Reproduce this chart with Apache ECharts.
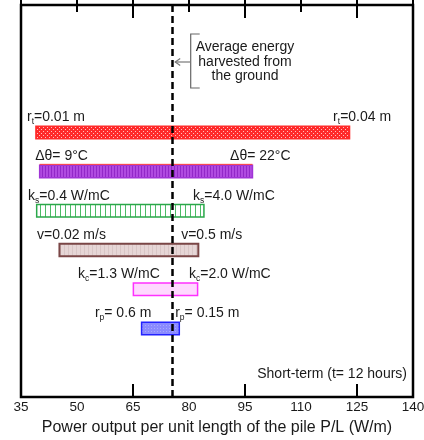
<!DOCTYPE html>
<html>
<head>
<meta charset="utf-8">
<script src="https://cdn.jsdelivr.net/npm/echarts@6/dist/echarts.min.js"></script>
<style>
  html, body { margin: 0; padding: 0; background: #fff; }
  #main { width: 424px; height: 440px; }
</style>
</head>
<body>
<div id="main"></div>
<script>
// parameter ranges (W/m)
var lowValues  = [39.0, 40.0, 39.2, 45.3, 65.1, 67.3];
var highValues = [123.0, 97.0, 84.0, 82.5, 82.3, 77.4];
var lowLabels  = ['r_t=0.01 m', '\u0394\u03b8= 9\u00b0C', 'k_s=0.4 W/mC', 'v=0.02 m/s', 'k_c=1.3 W/mC', 'r_p= 0.6 m'];
var highLabels = ['r_t=0.04 m', '\u0394\u03b8= 22\u00b0C', 'k_s=4.0 W/mC', 'v=0.5 m/s', 'k_c=2.0 W/mC', 'r_p= 0.15 m'];
var averageValue = 75.5;
var xMin = 35, xMax = 140, xStep = 15;
var xTitle = 'Power output per unit length of the pile P/L (W/m)';

// where each label starts (x in W/m)
var lowLabelAt  = [36.6, 38.8, 36.9, 39.3, 50.3, 54.8];
var highLabelAt = [118.6, 91.0, 81.1, 77.9, 80.0, 76.3];

var FONT = '"Liberation Sans", Arial, sans-serif';
var INK = '#1a1a1a';

function makePattern(w, h, draw) {
  var c = document.createElement('canvas');
  c.width = w; c.height = h;
  var ctx = c.getContext('2d');
  draw(ctx);
  return { image: c, repeat: 'repeat' };
}

var barStyles = [
  { stroke: '#ff2a2a', lw: 1.5, fill: makePattern(4, 4, function (g) {
      g.fillStyle = '#ff2a2a'; g.fillRect(0, 0, 4, 4);
      g.fillStyle = '#ffc0c0'; g.fillRect(1, 1, 1, 1); g.fillRect(3, 3, 1, 1);
    }) },
  { stroke: '#a034d6', lw: 1.5, top: '#ff3b3b', fill: makePattern(3, 1, function (g) {
      g.fillStyle = '#b04ae0'; g.fillRect(0, 0, 3, 1);
      g.fillStyle = '#9228c8'; g.fillRect(0, 0, 1, 1);
    }) },
  { stroke: '#2aa84a', lw: 1.5, fill: makePattern(5, 1, function (g) {
      g.fillStyle = '#ffffff'; g.fillRect(0, 0, 5, 1);
      g.fillStyle = '#4cbc66'; g.fillRect(0, 0, 1, 1);
    }) },
  { stroke: '#7a4646', lw: 2, fill: makePattern(4, 1, function (g) {
      g.fillStyle = '#e6d6d6'; g.fillRect(0, 0, 4, 1);
      g.fillStyle = '#d8c6c6'; g.fillRect(0, 0, 1, 1);
    }) },
  { stroke: '#ff30ff', lw: 1.5, fill: '#ffd8ff' },
  { stroke: '#2222ff', lw: 1.5, fill: makePattern(3, 3, function (g) {
      g.fillStyle = '#8a8aff'; g.fillRect(0, 0, 3, 3);
      g.fillStyle = '#a8a8ff'; g.fillRect(1, 1, 1, 1);
    }) }
];

// rows on a hidden 0..20 y scale, bars sit on every second slot
var barData = [];
for (var i = 0; i < lowValues.length; i++) {
  barData.push([lowValues[i], highValues[i], 6.5 + 2 * i]);
}

function richText(s) {
  return s.replace(/_(\w)/g, '{s|$1}');
}

var richStyles = {
  s: { fontSize: 8.5, fontFamily: FONT, color: INK, padding: [9, 0, 0, 0] }
};

var myChart = echarts.init(document.getElementById('main'));

function tickAxis(pos, len, step) {
  return {
    type: 'value', position: pos, min: xMin, max: xMax, interval: step,
    axisLine: { show: false }, splitLine: { show: false },
    axisTick: { show: true, inside: true, length: len, lineStyle: { color: '#000', width: 2 } },
    axisLabel: { show: false }
  };
}

var bottomAxis = tickAxis('bottom', 7, xStep);
bottomAxis.axisLabel = { show: true, color: INK, fontSize: 13.5, fontFamily: FONT, margin: 3 };

var option = {
  animation: false,
  grid: {
    left: 21, right: 11, top: 5, bottom: 43, outerBoundsMode: 'none',
    show: true, borderColor: '#000', borderWidth: 2.5
  },
  xAxis: [
    bottomAxis,
    tickAxis('bottom', 13, 30),
    tickAxis('top', 7, xStep),
    tickAxis('top', 13, 30)
  ],
  yAxis: {
    type: 'value', min: 0, max: 20, inverse: true, show: false
  },
  series: [
    {
      type: 'custom',
      xAxisIndex: 0,
      data: barData,
      encode: { x: [0, 1], y: 2 },
      renderItem: function (params, api) {
        var i = params.dataIndex;
        var row = api.value(2);
        var p0 = api.coord([api.value(0), row]);
        var p1 = api.coord([api.value(1), row]);
        var h = 12.5;
        var st = barStyles[i];
        var children = [
          {
            type: 'rect',
            shape: { x: p0[0], y: p0[1] - h / 2, width: p1[0] - p0[0], height: h },
            style: { fill: st.fill, stroke: st.stroke, lineWidth: st.lw }
          },
          {
            type: 'text',
            x: api.coord([lowLabelAt[i], row])[0], y: p0[1] - 15,
            style: { text: richText(lowLabels[i]), rich: richStyles, fill: INK,
                     font: '14px ' + FONT, align: 'left', verticalAlign: 'middle' }
          },
          {
            type: 'text',
            x: api.coord([highLabelAt[i], row])[0], y: p0[1] - 15,
            style: { text: richText(highLabels[i]), rich: richStyles, fill: INK,
                     font: '14px ' + FONT, align: 'left', verticalAlign: 'middle' }
          }
        ];
        if (st.top) {
          children.push({
            type: 'line',
            shape: { x1: p0[0], y1: p0[1] - h / 2 - 1, x2: p1[0], y2: p0[1] - h / 2 - 1 },
            style: { stroke: st.top, lineWidth: 1 }
          });
        }
        return { type: 'group', children: children };
      },
      markLine: {
        silent: true,
        symbol: 'none',
        label: { show: false },
        lineStyle: { color: '#000', width: 2.5, type: [7, 4] },
        data: [{ xAxis: averageValue }]
      },
      z: 3
    }
  ]
};

myChart.setOption(option);

// annotation for the average line + axis title
var ax = myChart.convertToPixel({ xAxisIndex: 0 }, averageValue);
var bx = ax + 18.5;
var midX = (myChart.convertToPixel({ xAxisIndex: 0 }, xMin) + myChart.convertToPixel({ xAxisIndex: 0 }, xMax)) / 2;
myChart.setOption({
  graphic: [
    {
      type: 'polyline',
      shape: { points: [[bx + 9, 34], [bx, 34], [bx, 88], [bx + 9, 88]] },
      style: { stroke: '#666', lineWidth: 1.2, fill: null }
    },
    {
      type: 'line',
      shape: { x1: bx, y1: 62, x2: ax + 3, y2: 62 },
      style: { stroke: '#777', lineWidth: 1.2 }
    },
    {
      type: 'polyline',
      shape: { points: [[ax + 8, 58.5], [ax + 3, 62], [ax + 8, 65.5]] },
      style: { stroke: '#777', lineWidth: 1.2, fill: null }
    },
    {
      type: 'text',
      x: 245, y: 62,
      style: {
        text: 'Average energy\nharvested from\nthe ground',
        font: '14px ' + FONT, fill: INK, align: 'center', verticalAlign: 'middle', lineHeight: 14.5
      }
    },
    {
      type: 'text',
      x: 407, y: 374,
      style: { text: 'Short-term (t= 12 hours)', font: '14px ' + FONT, fill: INK, align: 'right', verticalAlign: 'middle' }
    },
    {
      type: 'text',
      x: midX, y: 428,
      style: { text: xTitle, font: '16px ' + FONT, fill: INK, align: 'center', verticalAlign: 'middle' }
    }
  ]
});
</script>
</body>
</html>
